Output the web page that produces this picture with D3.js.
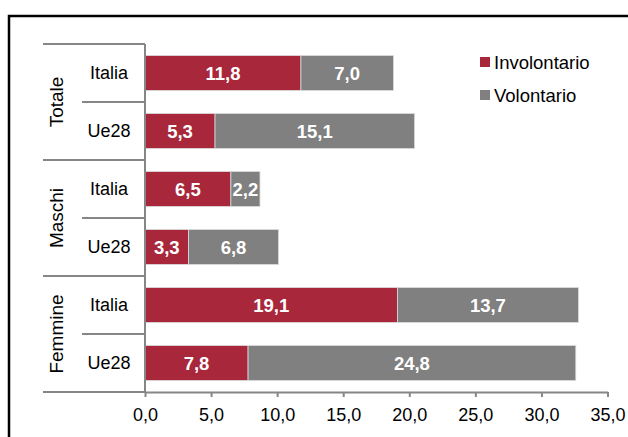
<!DOCTYPE html>
<html lang="it">
<head>
<meta charset="UTF-8">
<script src="https://d3js.org/d3.v7.min.js"></script>
<style>
body { margin: 0; background: #fff; }
text { font-family: "Liberation Sans", Arial, sans-serif; }
.val { font-weight: bold; fill: #fff; font-size: 18.5px; }
</style>
</head>
<body>
<script>
var groups = ["Totale", "Maschi", "Femmine"];
var countries = ["Italia", "Ue28"];
var involontario = [11.8, 5.3, 6.5, 3.3, 19.1, 7.8];
var volontario = [7.0, 15.1, 2.2, 6.8, 13.7, 24.8];
var series = ["Involontario", "Volontario"];
var colors = ["#a8273b", "#808080"];
var xTicks = [0, 5, 10, 15, 20, 25, 30, 35];

var width = 628, height = 437;
var svg = d3.select("body").append("svg")
    .attr("width", width)
    .attr("height", height);

// outer frame (right/bottom edges cut off in the original)
svg.append("rect")
    .attr("x", 9).attr("y", 16)
    .attr("width", 660).attr("height", 460)
    .attr("fill", "none").attr("stroke", "#000").attr("stroke-width", 2.5);

var rows = [];
groups.forEach(function(g, gi) {
  countries.forEach(function(c, ci) {
    var i = gi * 2 + ci;
    rows.push({ key: g + "-" + c, group: g, country: c, inv: involontario[i], vol: volontario[i] });
  });
});

var x = d3.scaleLinear().domain([0, 35]).range([145, 607.5]);
var y = d3.scaleBand().domain(rows.map(function(d) { return d.key; }))
    .range([44, 392]).paddingInner(0.4).paddingOuter(0.2);
var step = y.step();

// bars
var bar = svg.append("g").selectAll("g").data(rows).join("g");
bar.append("rect")
    .attr("x", x(0))
    .attr("y", function(d) { return y(d.key); })
    .attr("width", function(d) { return x(d.inv) - x(0); })
    .attr("height", y.bandwidth())
    .attr("fill", colors[0]).attr("stroke", "#d9d9d9").attr("stroke-width", 0.8);
bar.append("rect")
    .attr("x", function(d) { return x(d.inv); })
    .attr("y", function(d) { return y(d.key); })
    .attr("width", function(d) { return x(d.inv + d.vol) - x(d.inv); })
    .attr("height", y.bandwidth())
    .attr("fill", colors[1]).attr("stroke", "#d9d9d9").attr("stroke-width", 0.8);

var fmt = function(v) { return v.toFixed(1).replace(".", ","); };
bar.append("text").attr("class", "val")
    .attr("x", function(d) { return (x(0) + x(d.inv)) / 2; })
    .attr("y", function(d) { return y(d.key) + y.bandwidth() / 2; })
    .attr("dy", "0.36em").attr("text-anchor", "middle")
    .text(function(d) { return fmt(d.inv); });
bar.append("text").attr("class", "val")
    .attr("x", function(d) { return (x(d.inv) + x(d.inv + d.vol)) / 2; })
    .attr("y", function(d) { return y(d.key) + y.bandwidth() / 2; })
    .attr("dy", "0.36em").attr("text-anchor", "middle")
    .text(function(d) { return fmt(d.vol); });

// x axis
var xAxis = svg.append("g")
    .attr("transform", "translate(0,392)")
    .call(d3.axisBottom(x).tickValues(xTicks).tickSize(5).tickSizeOuter(0)
      .tickFormat(function(d) { return d.toFixed(1).replace(".", ","); }));
xAxis.select(".domain").attr("stroke", "#868686").attr("stroke-width", 2);
xAxis.selectAll(".tick line").attr("stroke", "#868686").attr("stroke-width", 2);
xAxis.selectAll(".tick text").attr("font-size", 18).attr("fill", "#000").attr("y", 16).attr("dy", "0.71em")
    .style("font-family", "'Liberation Sans', Arial, sans-serif");

// vertical axis line + category separators
var line = svg.append("g").attr("stroke", "#868686").attr("stroke-width", 2);
line.append("line").attr("x1", x(0)).attr("x2", x(0)).attr("y1", 44).attr("y2", 392);
d3.range(rows.length + 1).forEach(function(i) {
  var yy = 44 + i * step;
  line.append("line")
      .attr("x1", i % 2 === 0 ? 43 : 82).attr("x2", x(0))
      .attr("y1", yy).attr("y2", yy);
});

// category labels
svg.append("g").selectAll("text").data(rows).join("text")
    .attr("x", 109)
    .attr("y", function(d) { return y(d.key) + y.bandwidth() / 2; })
    .attr("dy", "0.36em").attr("text-anchor", "middle")
    .attr("font-size", 18)
    .text(function(d) { return d.country; });

svg.append("g").selectAll("text").data(groups).join("text")
    .attr("transform", function(d, i) {
      return "translate(63," + (44 + step * (i * 2 + 1)) + ") rotate(-90)";
    })
    .attr("text-anchor", "middle")
    .attr("font-size", 19)
    .text(function(d) { return d; });

// legend
var leg = svg.append("g").selectAll("g").data(series).join("g")
    .attr("transform", function(d, i) { return "translate(480," + (62 + i * 33) + ")"; });
leg.append("rect").attr("x", 0).attr("y", -5).attr("width", 10).attr("height", 10)
    .attr("fill", function(d, i) { return colors[i]; });
leg.append("text").attr("x", 14).attr("dy", "0.36em").attr("font-size", 18.5)
    .text(function(d) { return d; });
</script>
</body>
</html>
